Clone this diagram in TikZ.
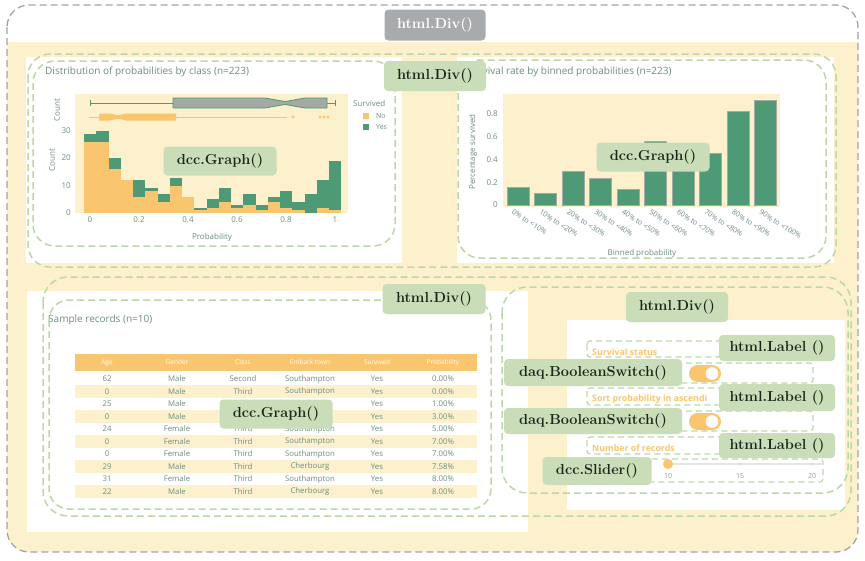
\documentclass[tikz,border=0pt]{standalone}
\usepackage{fontspec}
\newfontfamily\chartfont{Open Sans}
\definecolor{cream}{HTML}{FDF1CD}
\definecolor{orng}{HTML}{F9C56E}
\definecolor{grn}{HTML}{4E9A76}
\definecolor{txtg}{HTML}{6E8C80}
\definecolor{lblfill}{HTML}{C8DDB8}
\definecolor{lblgray}{HTML}{A8ABAD}
\definecolor{dashg}{HTML}{BDD6A8}
\definecolor{dashgray}{HTML}{A3A3A3}
\definecolor{ink}{HTML}{1B261B}
\definecolor{boxgray}{HTML}{A3A9A4}
\tikzset{
  lbl/.style={fill=lblfill, rounded corners=4pt, text=ink, font=\fontsize{14.5}{16}\selectfont\bfseries, inner sep=0pt, minimum height=29pt},
  gdash/.style={draw=dashg, dash pattern=on 7pt off 4pt, line width=1.5pt, rounded corners=22pt},
  sdash/.style={draw=dashg, dash pattern=on 6pt off 4pt, line width=1.2pt, rounded corners=3pt},
  ctxt/.style={text=txtg, font=\chartfont\fontsize{8}{9}\selectfont, inner sep=0pt},
  ttl/.style={text=txtg, font=\chartfont\fontsize{10}{12}\selectfont, inner sep=0pt, anchor=west},
  cell/.style={text=txtg, font=\chartfont\fontsize{7.8}{9}\selectfont, inner sep=0pt},
  hcell/.style={text=white, font=\chartfont\fontsize{6.5}{7}\selectfont, inner sep=0pt},
  otxt/.style={text=orng, font=\chartfont\bfseries\fontsize{8.8}{10}\selectfont, inner sep=0pt, anchor=west},
  stxt/.style={text=black!40, font=\chartfont\fontsize{7}{8}\selectfont, inner sep=0pt},
}
\begin{document}
\begin{tikzpicture}[x=1pt,y=-1pt]
\useasboundingbox (0,0) rectangle (865,560);
\fill[white] (0,0) rectangle (865,560);
% cream background inside outer div
\begin{scope}
\clip[rounded corners=22pt] (7,5) rectangle (858,552);
\fill[cream] (7,42) rectangle (858,552);
\end{scope}
% white panels
\fill[white] (26,57) rectangle (402,263);
\fill[white] (457,57) rectangle (834,263);
\fill[white] (27,291) rectangle (528,532);
\fill[white] (567,320) rectangle (845,510);

% ---------- left chart ----------
\node[ttl] (t1) at (45,72) {Distribution of probabilities by class (n=223)};
\fill[cream] (75,94) rectangle (348,213);
\foreach \i/\n/\t in {1/26/29,2/26/30,3/16/20,4/12/12,5/6/12,6/8/9,7/4/7,8/10/13,9/6/6,10/1/2,11/2/5,12/4/9,13/2/3,14/3/7,15/1/3,16/4/6,17/2/8,18/1/4,19/0/7,20/2/12,21/1/19}{
  \fill[grn] ({84+(\i-1)*12.25},213) rectangle ({84+\i*12.25},{213-2.73*\t});
  \fill[orng] ({84+(\i-1)*12.25},213) rectangle ({84+\i*12.25},{213-2.73*\n});
}
\foreach \v/\y in {0/213,10/186,20/158,30/131}{
  \node[ctxt, anchor=east] (ly\v) at (71,\y) {\v};
}
\foreach \p/\l in {0/0,0.2/0.2,0.4/0.4,0.6/0.6,0.8/0.8,1/1}{
  \node[ctxt] (lx\l) at ({90+245*\p},220) {\l};
}
\node[ctxt, rotate=90] (cnt1) at (57,110) {Count};
\node[ctxt, rotate=90] (cnt2) at (52,160) {Count};
\node[ctxt] (xprob) at (212,237) {Probability};
% box plots
\draw[grn, line width=0.8pt] (90,103) -- (173,103) (327,103) -- (335,103);
\draw[grn, line width=0.8pt] (90,100) -- (90,106) (335,100) -- (335,106);
\draw[grn, line width=0.8pt, fill=boxgray] (173,98) -- (265,98) -- (285,101.5) -- (305,98) -- (327,98) -- (327,108) -- (305,108) -- (285,104.5) -- (265,108) -- (173,108) -- cycle;
\draw[orng, line width=0.8pt] (89,117) -- (287,117);
\fill[orng] (99,113.5) -- (110,113.5) -- (118,115.3) -- (126,113.5) -- (176,113.5) -- (176,120.5) -- (126,120.5) -- (118,118.7) -- (110,120.5) -- (99,120.5) -- cycle;
\foreach \x in {293,320,324,328}{ \fill[orng] (\x,117) circle (1.6pt); }
% legend
\node[ctxt, anchor=west] (lgt) at (353,103) {Survived};
\fill[orng] (363,113) rectangle (369,119);
\node[ctxt, anchor=west, font=\chartfont\fontsize{7}{8}\selectfont] (lgno) at (376,116) {No};
\fill[grn] (363,124) rectangle (369,130);
\node[ctxt, anchor=west, font=\chartfont\fontsize{7}{8}\selectfont] (lgyes) at (376,127) {Yes};

% ---------- right chart ----------
\node[ttl] (t2) at (467,72) {Survival rate by binned probabilities (n=223)};
\fill[cream] (503,94) rectangle (780,207);
\foreach \i/\h/\l in {0/0.16/0\% to <10\%,1/0.10/10\% to <20\%,2/0.30/20\% to <30\%,3/0.235/30\% to <40\%,4/0.14/40\% to <50\%,5/0.56/50\% to <60\%,6/0.50/60\% to <70\%,7/0.45/70\% to <80\%,8/0.82/80\% to <90\%,9/0.92/90\% to <100\%}{
  \draw[fill=grn, draw=boxgray, line width=0.5pt] ({518+27.5*\i-11},205) rectangle ({518+27.5*\i+11},{205-114*\h});
  \node[ctxt, font=\chartfont\fontsize{7.3}{8}\selectfont, anchor=north west, rotate=-32] (bx\i) at ({518+27.5*\i-4},209) {\l};
}
\foreach \v/\l in {0/0,0.2/0.2,0.4/0.4,0.6/0.6,0.8/0.8}{
  \node[ctxt, anchor=east] (ry\l) at (498,{205-114*\v}) {\l};
}
\node[ctxt, rotate=90] (psurv) at (473,152) {Percentage survived};
\node[ctxt] (binp) at (642,253) {Binned probability};

% ---------- table ----------
\node[ttl] (t3) at (48,320) {Sample records (n=10)};
\fill[orng] (75,354) rectangle (477,371);
\foreach \x/\h [count=\k] in {107/Age,177/Gender,243/Class,310/Embark town,377/Survived,443/Probability}{
  \node[hcell] (h\k) at (\x,362.5) {\h};
}
\foreach \i/\a/\g/\c/\e/\s/\p in {1/62/Male/Second/Southampton/Yes/0.00,2/0/Male/Third/Southampton/Yes/0.00,3/25/Male//
/Yes/1.00,4/0/Male///Yes/3.00,5/24/Female/Third/Southampton/Yes/5.00,6/0/Female/Third/Southampton/Yes/7.00,7/0/Female/Third/Southampton/Yes/7.00,8/29/Male/Third/Cherbourg/Yes/7.58,9/31/Female/Third/Southampton/Yes/8.00,10/22/Male/Third/Cherbourg/Yes/8.00}{
  \pgfmathsetmacro\yy{379+12.5*(\i-1)}
  \ifodd\i\else \fill[cream] (75,\yy-6.25) rectangle (477,\yy+6.25); \fi
  \node[cell] (ra\i) at (107,\yy) {\a};
  \node[cell] (rg\i) at (177,\yy) {\g};
  \node[cell] (rs\i) at (377,\yy) {\s};
  \node[cell] (rp\i) at (443,\yy) {\p\%};
}
\foreach \i/\c/\e in {1/Second/Southampton,2/Third/Southampton,5/Third/Southampton,6/Third/Southampton,7/Third/Southampton,8/Third/Cherbourg,9/Third/Southampton,10/Third/Cherbourg}{
  \pgfmathsetmacro\yy{379+12.5*(\i-1)}
  \node[cell] (rc\i) at (243,\yy) {\c};
  \node[cell] (re\i) at (310,\yy) {\e};
}

% ---------- controls ----------
\draw[sdash] (587,341) rectangle (812,357);
\draw[sdash] (587,363) rectangle (813,383);
\draw[sdash] (587,388) rectangle (812,405);
\draw[sdash] (587,411) rectangle (813,431);
\draw[sdash] (587,437) rectangle (812,454);
\draw[sdash] (587,459) rectangle (823,482);
\node[otxt] (o1) at (592,352) {Survival status};
\node[otxt] (o2) at (592,399) {Sort probability in ascendi};
\node[otxt] (o3) at (592,448) {Number of records};
\foreach \y [count=\k] in {373.5,421.5}{
  \fill[orng, rounded corners=8.5pt] (689,\y-8.5) rectangle (721,\y+8.5);
  \draw[orng, fill=white, line width=1pt] (712,\y) circle (7pt);
}
\draw[draw=black!10, line width=2pt] (668,464) -- (823,464);
\foreach \x in {740,812}{ \fill[black!15] (\x,464) circle (1.5pt); }
\fill[orng] (668,464) circle (5pt);
\node[stxt] (s10) at (668,476) {10};
\node[stxt] (s15) at (740,476) {15};
\node[stxt] (s20) at (812,476) {20};

% ---------- dashed containers ----------
\draw[draw=dashgray, dash pattern=on 7pt off 4pt, line width=1.3pt, rounded corners=22pt] (7,5) rectangle (858,552);
\draw[gdash] (28,54) rectangle (836,267);
\draw[gdash] (33,61) rectangle (395,246);
\draw[gdash] (458,60) rectangle (826,258);
\draw[gdash, rounded corners=25pt] (43,277) rectangle (851,516);
\draw[gdash, rounded corners=20pt] (49,300) rectangle (491,509);
\draw[gdash, rounded corners=25pt] (502,287) rectangle (848,493);

% ---------- labels ----------
\node[lbl, fill=lblgray, text=white, minimum width=101pt, minimum height=31pt] (divtop) at (435,25) {\color{white}html.Div()};
\node[lbl, minimum width=102pt, minimum height=30pt] (divrow1) at (435,76) {html.Div()};
\node[lbl, minimum width=113pt] (graph1) at (220,161) {dcc.Graph()};
\node[lbl, minimum width=113pt] (graph2) at (653,157) {dcc.Graph()};
\node[lbl, minimum width=103pt, minimum height=30pt] (divrow2) at (434,299) {html.Div()};
\node[lbl, minimum width=102pt, minimum height=30pt] (divctl) at (677,307) {html.Div()};
\node[lbl, minimum width=113pt] (graph3) at (276,414) {dcc.Graph()};
\node[lbl, minimum width=116pt, minimum height=26pt] (label1) at (777,348) {html.Label ()};
\node[lbl, minimum width=116pt, minimum height=27pt] (label2) at (777,397.5) {html.Label ()};
\node[lbl, minimum width=116pt, minimum height=25pt] (label3) at (777,445.5) {html.Label ()};
\node[lbl, minimum width=178pt, minimum height=27pt] (switch1) at (593,372.5) {daq.BooleanSwitch()};
\node[lbl, minimum width=178pt, minimum height=26pt] (switch2) at (593,421) {daq.BooleanSwitch()};
\node[lbl, minimum width=109pt, minimum height=28pt] (slider) at (597,471) {dcc.Slider()};
\end{tikzpicture}
\end{document}
